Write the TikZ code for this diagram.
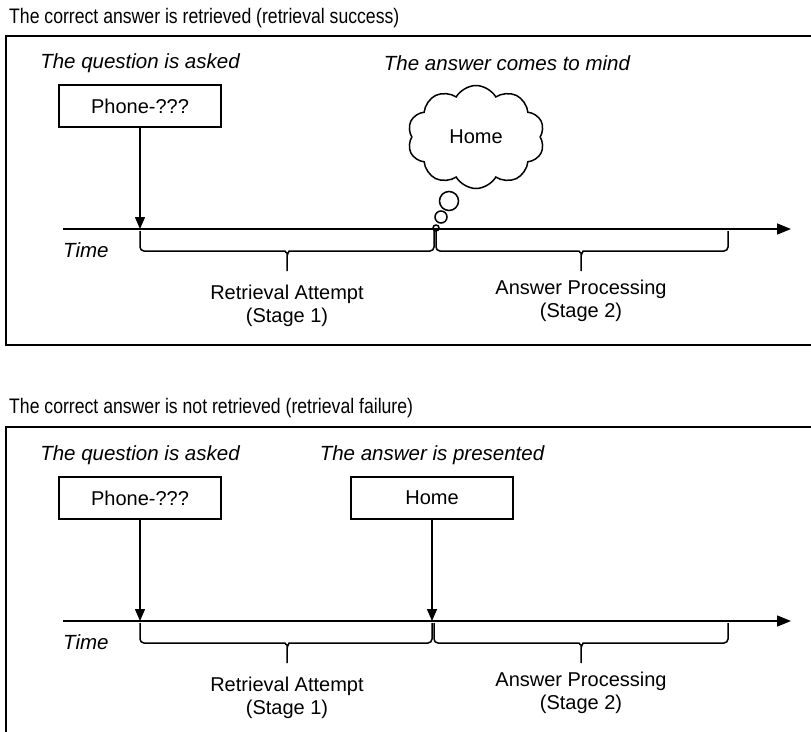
\documentclass[tikz,border=0pt]{standalone}
\usepackage{fontspec}
\setmainfont{Liberation Sans}
\newfontfamily\titlefont[FakeStretch=0.84]{Liberation Sans}
\usetikzlibrary{arrows.meta,shapes.symbols}

\begin{document}
\begin{tikzpicture}[x=1pt, y=-1pt,
    box/.style={rectangle, draw, line width=1.5pt, minimum width=162pt, minimum height=42pt, font=\fontsize{20}{24}\selectfont},
    heading/.style={anchor=west, inner sep=0pt, font=\titlefont\fontsize{21}{24}\selectfont},
    event/.style={inner sep=0pt, font=\fontsize{20.5}{24}\selectfont\itshape},
    stage/.style={align=center, inner sep=0pt, font=\fontsize{20}{23}\selectfont},
    frame/.style={line width=2pt},
    timeline/.style={line width=1.5pt, -{Triangle[length=14pt, width=11pt]}},
    pointer/.style={line width=1.5pt, -{Triangle[length=12pt, width=10pt]}},
    stagebrace/.style={line width=1.5pt, rounded corners=4pt},
    bubble/.style={circle, draw, line width=1.5pt, inner sep=0pt}
]
\clip (0,0) rectangle (811,731);

% Panel 1: retrieval success
\node[heading] (title1) at (9,18) {The correct answer is retrieved (retrieval success)};
\draw[frame] (815,36) -- (6,36) -- (6,345) -- (815,345);

\node[event] (asked1) at (140,63) {The question is asked};
\node[event] (mind) at (507,63) {The answer comes to mind};
\node[box] (phone1) at (140,106) {Phone-???};

% Thought cloud
\node[cloud, draw, line width=1.5pt, cloud puffs=10, cloud puff arc=120, cloud ignores aspect,
      minimum width=137pt, minimum height=103pt, font=\fontsize{20}{24}\selectfont] (cloud) at (476,137) {Home};
\node[bubble, minimum size=19pt] (bub1) at (449,201) {};
\node[bubble, minimum size=12pt] (bub2) at (441,217) {};
\node[bubble, minimum size=6pt] (bub3) at (436,228) {};

% Timeline 1
\coordinate (start1) at (63,229);
\coordinate (end1) at (791,229);
\draw[timeline] (start1) -- (end1);
\node[event, anchor=west] (time1) at (63,250) {Time};
\draw[pointer] (phone1.south) -- (phone1.south |- start1);

% Braces 1
\draw[stagebrace] (140,231) |- (281,251) to[out=0, in=90] (287,257) -- (287,271)
    (287,257) to[out=90, in=180] (293,251) -| (434,231);
\draw[stagebrace] (436,231) |- (575,251) to[out=0, in=90] (581,257) -- (581,271)
    (581,257) to[out=90, in=180] (587,251) -| (728,231);
\node[stage] (attempt1) at (287,306) {Retrieval Attempt\\(Stage 1)};
\node[stage] (process1) at (581,301) {Answer Processing\\(Stage 2)};

% Panel 2: retrieval failure
\node[heading] (title2) at (9,408) {The correct answer is not retrieved (retrieval failure)};
\draw[frame] (815,427) -- (6,427) -- (6,735);

\node[event] (asked2) at (140,455) {The question is asked};
\node[event] (presented) at (432,455) {The answer is presented};
\node[box] (phone2) at (140,498) {Phone-???};
\node[box] (home2) at (432,498) {Home};

% Timeline 2
\coordinate (start2) at (63,621);
\coordinate (end2) at (791,621);
\draw[timeline] (start2) -- (end2);
\node[event, anchor=west] (time2) at (63,642) {Time};
\draw[pointer] (phone2.south) -- (phone2.south |- start2);
\draw[pointer] (home2.south) -- (home2.south |- start2);

% Braces 2
\draw[stagebrace] (140,623) |- (281,643) to[out=0, in=90] (287,649) -- (287,663)
    (287,649) to[out=90, in=180] (293,643) -| (432,623);
\draw[stagebrace] (434,623) |- (575,643) to[out=0, in=90] (581,649) -- (581,663)
    (581,649) to[out=90, in=180] (587,643) -| (728,623);
\node[stage] (attempt2) at (287,698) {Retrieval Attempt\\(Stage 1)};
\node[stage] (process2) at (581,693) {Answer Processing\\(Stage 2)};
\end{tikzpicture}
\end{document}
